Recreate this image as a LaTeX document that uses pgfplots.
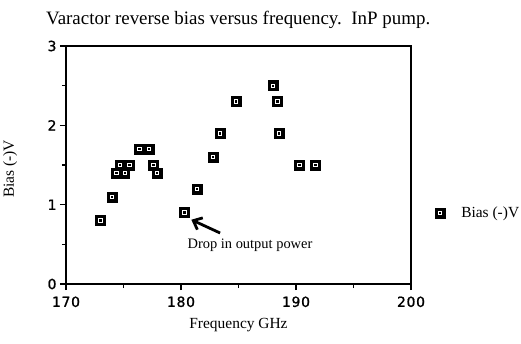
\documentclass[border=0pt]{standalone}
\usepackage{fontspec}
\setmainfont{Liberation Serif}
\newfontfamily\tickfont[LetterSpace=5, FakeBold=1.2]{DejaVu Sans}
\usepackage{pgfplots}
\pgfplotsset{compat=1.18}
\usetikzlibrary{arrows.meta}

% Measured bias points (frequency in GHz, reverse bias in V)
\pgfplotstableread{
f      v
173.0  0.8
174.0  1.1
174.4  1.4
175.1  1.4
174.7  1.5
175.5  1.5
176.4  1.7
177.2  1.7
177.6  1.5
177.9  1.4
180.3  0.9
181.4  1.2
182.8  1.6
183.4  1.9
184.8  2.3
188.0  2.5
188.4  2.3
188.5  1.9
190.3  1.5
191.7  1.5
}\biasdata

\begin{document}
\begin{tikzpicture}
\path[use as bounding box] (-66bp,-60bp) rectangle (455bp,284bp);
\node[anchor=base west, font=\fontsize{19}{19}\selectfont, inner sep=0pt]
  at (-20bp,259bp) {Varactor reverse bias versus frequency.\ \ InP pump.};
\begin{axis}[
  scale only axis,
  width=345bp, height=238bp,
  at={(0,0)}, anchor=south west,
  xmin=170, xmax=200, ymin=0, ymax=3,
  xtick={170,180,190,200},
  minor xtick={175,185,195},
  ytick={0,1,2,3},
  minor ytick={0.5,1.5,2.5},
  tick pos=left,
  tick align=outside,
  major tick length=6bp,
  minor tick length=4bp,
  axis line style={line width=1.4pt},
  every tick/.style={black, line width=1.1pt},
  ticklabel style={font=\tickfont\fontsize{14}{14}\selectfont},
  xticklabel style={yshift=-3bp},
  /pgf/number format/assume math mode=true,
  xlabel={Frequency GHz},
  ylabel={Bias (-)V},
  every axis x label/.style={at={(axis description cs:0.5,-0.189)},
    anchor=base, font=\fontsize{15.5}{15.5}\selectfont},
  every axis y label/.style={at={(axis description cs:-0.162,0.483)},
    rotate=90, anchor=center, font=\fontsize{15.5}{15.5}\selectfont},
  legend style={draw=none, fill=none, at={(1.06,0.298)}, anchor=west,
    font=\fontsize{15.5}{15.5}\selectfont},
  legend cell align=left,
]
\addplot[only marks, mark=square*, mark size=5bp,
  mark options={fill=black, draw=black},
  legend image code/.code={
    \fill[black] (0bp,-5bp) rectangle (10bp,5bp);
    \draw[white, line width=0.9pt] (3.3bp,-1.7bp) rectangle (6.7bp,1.7bp);}
  ] table[x=f, y=v] {\biasdata};
\addlegendentry{\hspace{14bp}Bias (-)V}
\addplot[only marks, mark=square*, mark size=1.7bp,
  mark options={fill=black, draw=white, line width=0.9pt}, forget plot]
  table[x=f, y=v] {\biasdata};
\draw[line width=2.8pt, -{Straight Barb[length=7.5bp, width=13bp]}]
  (axis cs:183.4,0.643) -- (axis cs:180.9,0.81);
\node[font=\fontsize{14.5}{14.5}\selectfont] at (axis cs:186.0,0.49) {Drop in output power};
\end{axis}
\end{tikzpicture}
\end{document}
